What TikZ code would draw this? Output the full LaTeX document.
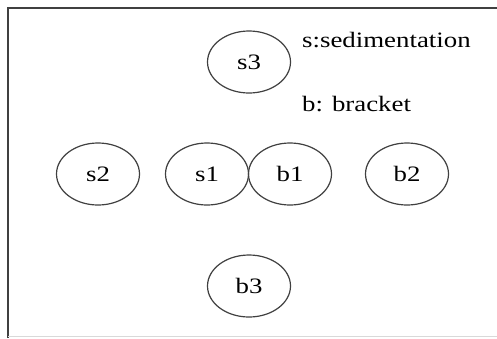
\documentclass[tikz,border=0pt]{standalone}
\usepackage{fontspec}
\setmainfont{Liberation Serif}[FakeStretch=1.22]
\usetikzlibrary{shapes.geometric}
\begin{document}
\begin{tikzpicture}[x=1pt,y=-1pt,
  oval/.style={draw=black!75,line width=1.2pt,ellipse,minimum width=83pt,minimum height=62pt,inner sep=0pt,font=\fontsize{22}{26}\selectfont},
  legend/.style={anchor=west,inner sep=0pt,font=\fontsize{22}{26}\selectfont},
  frame/.style={draw=black!75,line width=2pt}]
\useasboundingbox (0,0) rectangle (497,338);
\fill[white] (0,0) rectangle (497,338);
\draw[frame] (8,338) -- (8,8) -- (497,8);
\draw[black!15,line width=0.8pt] (8,336.5) -- (497,336.5);
\node[oval] (s3) at (249,62) {s3};
\node[oval] (s2) at (98,174) {s2};
\node[oval] (s1) at (207,174) {s1};
\node[oval] (b1) at (290,174) {b1};
\node[oval] (b2) at (407,174) {b2};
\node[oval] (b3) at (249,286) {b3};
\node[legend] (ls) at (302,40) {s:sedimentation};
\node[legend] (lb) at (302,104) {b: bracket};
\end{tikzpicture}
\end{document}
